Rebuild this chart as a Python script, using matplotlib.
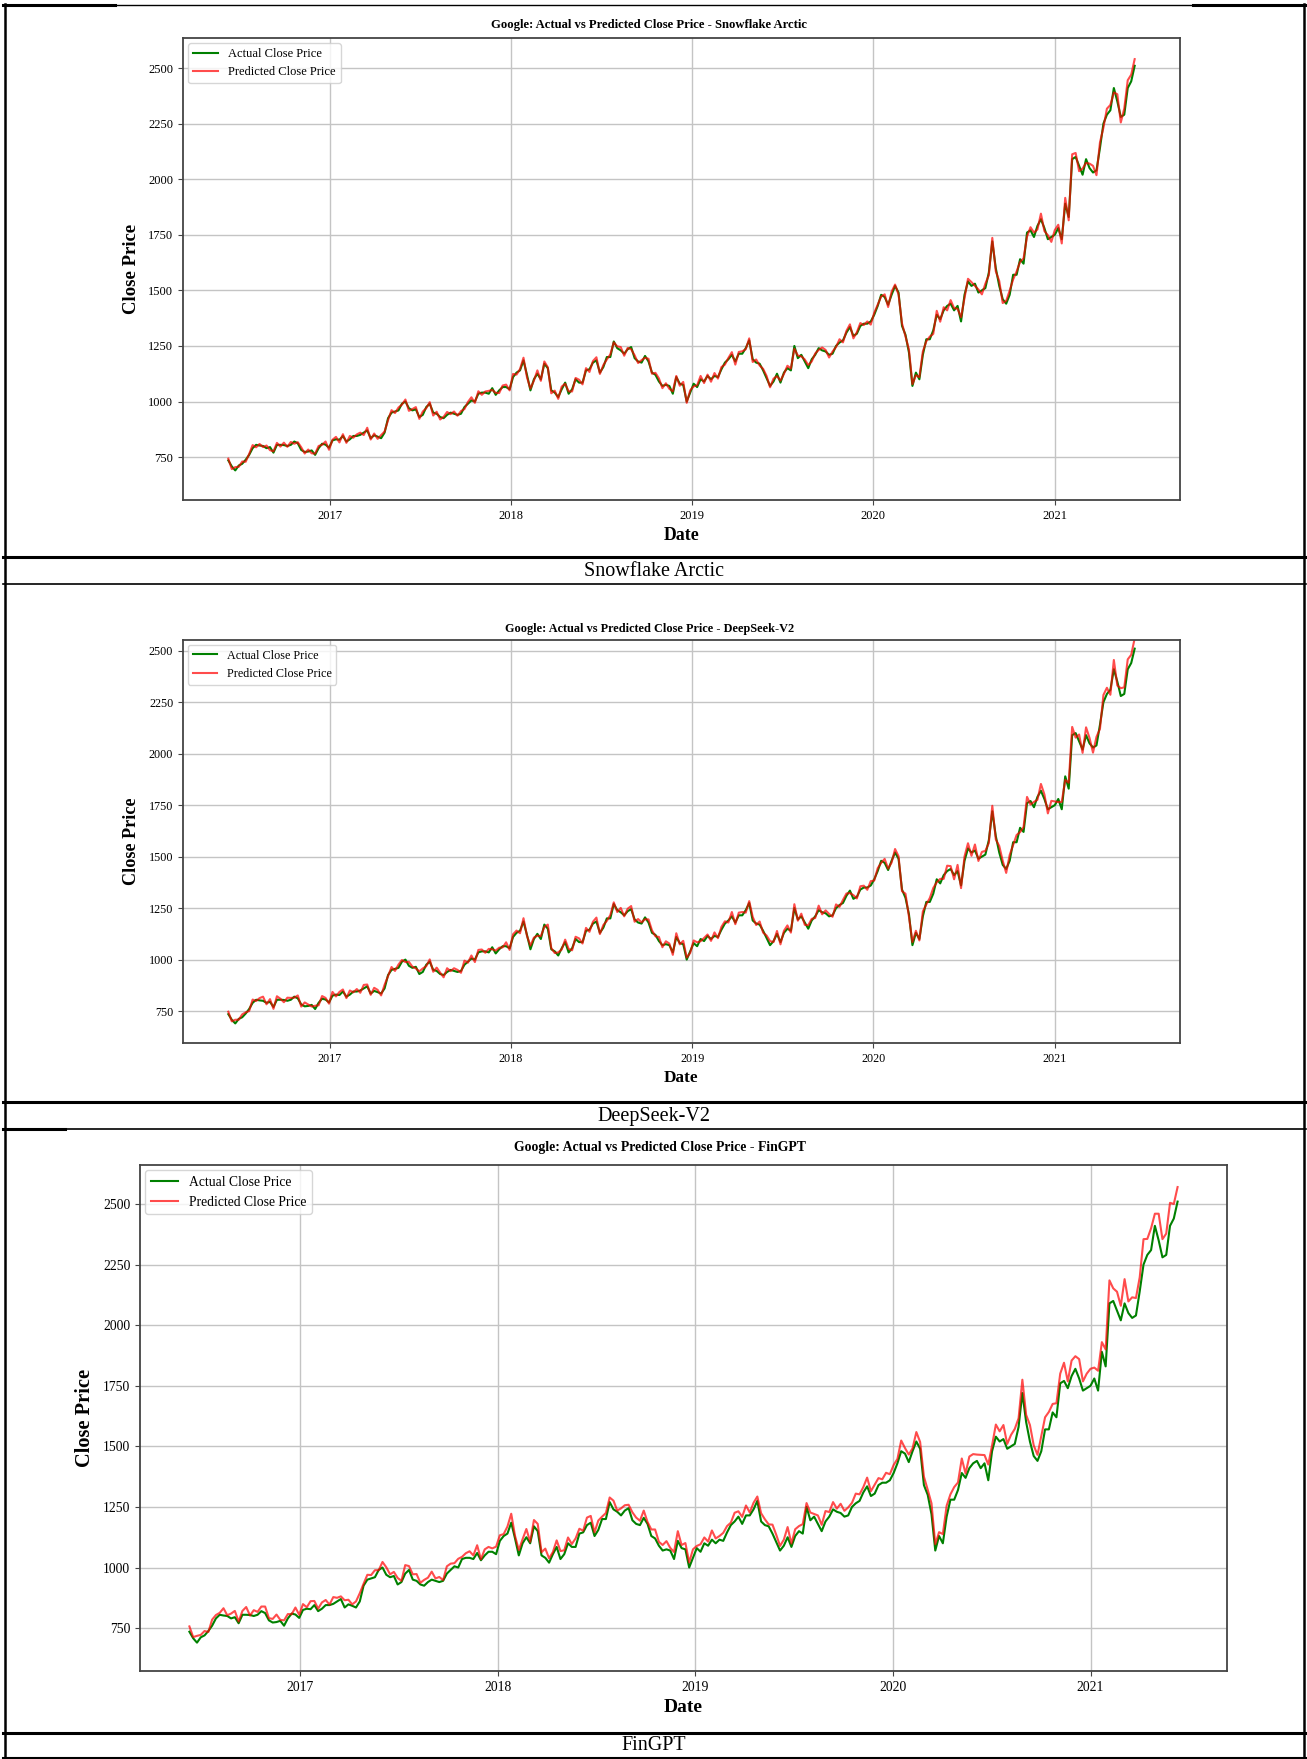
import numpy as np
import pandas as pd
import matplotlib
matplotlib.use("Agg")
import matplotlib.pyplot as plt
from matplotlib.lines import Line2D

plt.rcParams['font.family'] = ['Liberation Serif', 'DejaVu Serif']

W, H = 1307, 1759

# weekly closes (Fridays) from 2016-06-10 to 2021-06-11
dates = pd.date_range('2016-06-10', periods=262, freq='W-FRI')

actual = [
    # 2016
    735, 708, 690,
    712, 720, 738, 760, 790,
    805, 802, 800, 790,
    795, 770, 805, 805, 804,
    800, 805, 820, 812,
    782, 773, 775, 780,
    760, 790, 810, 806, 792,
    # 2017
    825, 830, 828, 845,
    820, 830, 845, 845,
    850, 860, 870, 835, 848,
    842, 835, 860, 925,
    950, 955, 960, 990,
    1000, 970, 960, 965, 930,
    940, 975, 990, 950,
    945, 930, 925, 940,
    950, 945, 940, 945, 975,
    990, 1005, 1000, 1035,
    1040, 1040, 1035, 1060,
    1030, 1050, 1065, 1065, 1055,
    # 2018
    1110, 1130, 1140, 1185,
    1120, 1050, 1100, 1125,
    1100, 1170, 1150, 1050, 1040,
    1020, 1055, 1085, 1035,
    1055, 1100, 1085, 1085,
    1140, 1145, 1175, 1185, 1130,
    1155, 1200, 1200, 1270,
    1240, 1230, 1215, 1235, 1245,
    1195, 1180, 1175, 1205,
    1180, 1130, 1120, 1090,
    1070, 1075, 1070, 1035, 1110,
    1080, 1075, 1000, 1040,
    # 2019
    1080, 1065, 1100, 1090,
    1115, 1100, 1115, 1110,
    1145, 1175, 1190, 1210, 1180,
    1215, 1215, 1240, 1275,
    1190, 1175, 1170, 1140, 1105,
    1070, 1090, 1125, 1085,
    1130, 1150, 1140, 1250,
    1195, 1210, 1180, 1150, 1190,
    1210, 1240, 1230, 1225,
    1210, 1215, 1250, 1265,
    1275, 1310, 1335, 1295, 1305,
    1340, 1350, 1350, 1360,
    # 2020
    1390, 1430, 1480, 1470, 1435,
    1480, 1520, 1490, 1340,
    1300, 1220, 1070, 1130,
    1100, 1210, 1280, 1280,
    1320, 1390, 1370, 1410, 1430,
    1440, 1410, 1430, 1360,
    1480, 1540, 1520, 1530, 1490,
    1500, 1510, 1580, 1720,
    1600, 1520, 1460, 1440,
    1480, 1570, 1570, 1640, 1620,
    1760, 1770, 1740, 1790,
    1820, 1780, 1730, 1740,
    # 2021
    1750, 1780, 1730, 1890, 1830,
    2090, 2100, 2060, 2020,
    2090, 2050, 2030, 2040,
    2140, 2250, 2290, 2310, 2410,
    2350, 2280, 2290, 2410,
    2440, 2510,
]

# predicted minus actual, per model
dev_snowflake = [
    8, -12, 15, -6, 10, -9, 4, 14, -11, 7, -5, 12, -14, 6, 9, -8, 11, -4, 13, -10,
    5, 12, -7, 9, -13, 6, 10, -5, 14, -9, 3, 11, -12, 8, -6, 15, -8, 7, 10, -11,
    12, -6, 8, -10, 14, 5, -9, 11, -7, 13, -4, 9, -12, 6, 10, -8, 15, -5, 7, -13,
    9, -11, 6, 13, -7, 10, -4, 12, -9, 8, 14, -6, 11, -10, 5, 13, -8, 9, -12, 7,
    11, -5, 14, -9, 6, 12, -11, 8, -6, 15, -7, 10, 4, -13, 9, -8, 12, -5, 11, -10,
    6, 13, -8, 10, -12, 7, 14, -6, 9, -11, 12, -4, 8, 15, -9, 6, -10, 13, -7, 11,
    -8, 12, -5, 9, 14, -10, 7, -13, 11, 5, -9, 13, -6, 10, -12, 8, 15, -7, 6, -11,
    13, -7, 10, -9, 6, 12, -14, 8, 11, -5, 9, -12, 14, -8, 7, 10, -6, 13, -11, 9,
    -6, 11, 8, -13, 12, -7, 9, 14, -10, 6, -8, 13, 7, -12, 10, -5, 15, -9, 8, 12,
    -11, 7, 13, -6, 10, -14, 9, 5, -8, 12, -10, 14, 6, -9, 11, -7, 13, 8, -12, 10,
    15, -9, 12, -16, 18, -11, 14, -20, 16, 10, -13, 19, -15, 12, 17, -10, 14, -18, 20, -12,
    16, -14, 22, -17, 13, 19, -21, 15, -12, 24, -18, 14, 20, -16, 25, -13, 18, -22, 21, 15,
    -19, 26, -15, 22, 18, -24, 28, -17, 20, 30, -22, 25, -18, 27, 24, -20, 32, -25, 28, 35,
    30, 30,
]
dev_deepseek = [
    12, -8, 18, -4, 14, 6, -10, 16, -6, 11, 20, -7, 13, -9, 17, 5, -11, 15, 9, -5,
    14, -10, 19, 7, -8, 16, -12, 13, 8, -6, 18, -9, 15, 10, -7, 20, -4, 12, -11, 17,
    9, -6, 15, 11, -9, 18, -5, 14, -10, 16, 8, -12, 19, 6, -8, 13, 17, -7, 11, -9,
    16, 7, -11, 18, -6, 13, 10, -9, 20, -5, 15, -12, 12, 9, -7, 17, -10, 14, 8, -6,
    19, -8, 13, 11, -12, 16, -5, 18, 7, -9, 14, -11, 20, 6, -8, 15, -6, 12, 17, -10,
    11, 18, -7, 14, -10, 9, 19, -6, 13, -12, 16, 8, -9, 21, -5, 12, 15, -11, 17, 6,
    -9, 15, 12, -7, 20, -10, 14, 8, -12, 18, -6, 16, 10, -8, 13, 19, -11, 15, 7, -9,
    17, -6, 14, 11, -10, 21, -8, 13, 16, -12, 9, 18, -7, 15, -9, 12, 20, -5, 14, -11,
    10, 16, -9, 19, -6, 13, -11, 17, 8, -8, 22, -10, 14, 12, -7, 18, -9, 15, 11, -12,
    18, -8, 16, 9, -11, 21, -6, 14, -10, 19, 7, -9, 17, 12, -8, 20, -12, 15, 10, -7,
    24, -12, 19, 28, -15, 22, -18, 26, 14, -20, 30, -13, 21, 25, -16, 29, -11, 23, 18, -14,
    27, -16, 32, 20, -19, 28, -13, 35, -21, 24, 30, -17, 26, -14, 33, 22, -20, 31, 18, -15,
    36, -18, 29, 40, -22, 33, -16, 38, 26, -25, 42, -20, 35, 30, -24, 45, -19, 38, 32, 48,
    40, 50,
]
dev_fingpt = [
    22, 5, 28, 10, 18, -4, 25, 14, 8, 30, 3, 20, 26, 7, 16, 32, -2, 24, 12, 19,
    27, 9, 15, 31, 4, 22, 18, -3, 29, 13, 24, 6, 33, 17, 10, 26, 21, 2, 28, 15,
    11, 30, 19, 6, 25, 34, 8, 20, 14, 29, -1, 23, 31, 12, 17, 27, 5, 35, 16, 22,
    28, 7, 24, 18, 33, 10, 21, 3, 30, 26, 13, 36, 9, 19, 27, 15, 32, 4, 25, 20,
    14, 31, 23, 8, 29, 37, 11, 22, 17, 34, 6, 26, 30, 13, 38, 18, 9, 27, 33, 16,
    24, 12, 35, 20, 7, 31, 28, 15, 39, 10, 25, 19, 36, 5, 29, 22, 14, 33, 26, 18,
    30, 8, 27, 37, 16, 23, 34, 11, 29, 40, 13, 26, 21, 35, 9, 31, 24, 17, 38, 20,
    15, 33, 26, 10, 36, 22, 29, 41, 12, 27, 18, 34, 24, 8, 37, 30, 19, 25, 42, 14,
    28, 21, 39, 16, 32, 11, 35, 26, 43, 19, 30, 13, 38, 24, 33, 17, 40, 27, 22, 36,
    20, 37, 29, 14, 41, 25, 33, 18, 44, 23, 31, 12, 39, 28, 35, 21, 45, 26, 16, 38,
    45, 22, 52, 31, 60, 18, 48, 38, 26, 55, 34, 65, 24, 50, 42, 58, 20, 47, 62, 36,
    55, 30, 68, 44, 25, 62, 50, 72, 35, 58, 40, 75, 28, 64, 52, 80, 38, 60, 70, 45,
    82, 40, 70, 95, 52, 78, 60, 100, 48, 85, 72, 58, 105, 66, 90, 50, 110, 75, 88, 95,
    60, 60,
]

models = ['Snowflake Arctic', 'DeepSeek-V2', 'FinGPT']
devs = [dev_snowflake, dev_deepseek, dev_fingpt]
ylims = [(557, 2635), (595, 2552), (573, 2661)]

# layout in pixels: axes (left, right, top, bottom), title (x, y), scale
boxes = [(183, 1180, 38, 500), (183, 1180, 640, 1043), (140, 1227, 1165, 1671)]
titles_xy = [(649, 25), (650, 629), (660, 1147)]
scales = [1.0, 0.97, 1.09]
captions_y = [571, 1116, 1746]

fig = plt.figure(figsize=(W / 100, H / 100), dpi=100)

act = np.array(actual, dtype=float)
for i in range(3):
    l, r, t, b = boxes[i]
    s = scales[i]
    ax = fig.add_axes([l / W, 1 - b / H, (r - l) / W, (b - t) / H])
    ax.plot(dates, act, color='green', lw=1.5, label='Actual Close Price')
    ax.plot(dates, act + np.array(devs[i]), color='red', alpha=0.7, lw=1.5,
            label='Predicted Close Price')
    ax.set_ylim(*ylims[i])
    ax.set_yticks([750, 1000, 1250, 1500, 1750, 2000, 2250, 2500])
    ax.grid(True, color='#c4c4c4', lw=1.0)
    ax.set_axisbelow(True)
    for sp in ax.spines.values():
        sp.set_color('#444444')
        sp.set_linewidth(1.3)
    ax.tick_params(labelsize=9 * s, length=3.5, color='#444444')
    ax.set_xlabel('Date', fontsize=12.8 * s, fontweight='bold', labelpad=4)
    ax.set_ylabel('Close Price', fontsize=13.5 * s, fontweight='bold', labelpad=6)
    leg = ax.legend(loc='upper left', fontsize=9 * s, handlelength=2.0,
                    borderaxespad=0.4, framealpha=0.8)
    leg.get_frame().set_edgecolor('#cccccc')
    tx, ty = titles_xy[i]
    fig.text(tx / W, 1 - ty / H, 'Google: Actual vs Predicted Close Price - ' + models[i],
             ha='center', va='center', fontsize=9.1 * s, fontweight='bold')
    fig.text(0.5, 1 - captions_y[i] / H, models[i], ha='center', va='center',
             fontsize=14.5)


def hline(y, x0, x1, lw):
    fig.add_artist(Line2D([x0 / W, x1 / W], [1 - y / H, 1 - y / H], color='black', lw=lw))


def vline(x, y0, y1, lw):
    fig.add_artist(Line2D([x / W, x / W], [1 - y0 / H, 1 - y1 / H], color='black', lw=lw))


# table borders
hline(5, 3, 115, 2.2)
hline(5, 115, 1193, 1.0)
hline(5, 1193, 1306, 2.2)
vline(5, 4, 1759, 1.8)
vline(1304, 4, 1759, 1.8)
hline(557, 3, 1306, 2.2)
hline(584, 3, 1306, 1.2)
hline(1102, 3, 1306, 2.2)
hline(1129, 3, 65, 2.2)
hline(1129, 65, 1306, 1.2)
hline(1733, 3, 1306, 2.2)
hline(1758, 3, 1306, 1.5)

fig.savefig('out.png', dpi=100)
